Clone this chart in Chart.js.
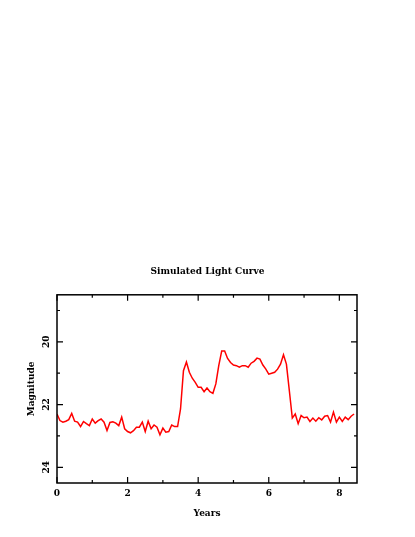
<!DOCTYPE html>
<html>
<head>
<meta charset="utf-8">
<title>Simulated Light Curve</title>
<script src="https://cdn.jsdelivr.net/npm/chart.js@4.4.1/dist/chart.umd.min.js"></script>
<style>
    html, body { margin: 0; padding: 0; background: #fff; }
    canvas { display: block; }
</style>
</head>
<body>
<canvas id="lightCurve" width="415" height="537"></canvas>
<script>
// --- Data ---
const years = [
    0, 0.083, 0.167, 0.25, 0.333, 0.417, 0.5, 0.583, 0.667, 0.75, 0.833, 0.917,
    1, 1.083, 1.167, 1.25, 1.333, 1.417, 1.5, 1.583, 1.667, 1.75, 1.833, 1.917,
    2, 2.083, 2.167, 2.25, 2.333, 2.417, 2.5, 2.583, 2.667, 2.75, 2.833, 2.917,
    3, 3.083, 3.167, 3.25, 3.333, 3.417, 3.5, 3.583, 3.667, 3.75, 3.833, 3.917,
    4, 4.083, 4.167, 4.25, 4.333, 4.417, 4.5, 4.583, 4.667, 4.75, 4.833, 4.917,
    5, 5.083, 5.167, 5.25, 5.333, 5.417, 5.5, 5.583, 5.667, 5.75, 5.833, 5.917,
    6, 6.083, 6.167, 6.25, 6.333, 6.417, 6.5, 6.583, 6.667, 6.75, 6.833, 6.917,
    7, 7.083, 7.167, 7.25, 7.333, 7.417, 7.5, 7.583, 7.667, 7.75, 7.833, 7.917,
    8, 8.083, 8.167, 8.25, 8.333, 8.417
];
const magnitudes = [
    22.30, 22.51, 22.56, 22.53, 22.48, 22.28, 22.53, 22.56, 22.70, 22.54, 22.61, 22.67,
    22.46, 22.59, 22.51, 22.46, 22.56, 22.83, 22.57, 22.55, 22.59, 22.67, 22.40, 22.77,
    22.86, 22.90, 22.83, 22.72, 22.72, 22.56, 22.86, 22.53, 22.77, 22.65, 22.72, 22.96,
    22.75, 22.88, 22.86, 22.65, 22.70, 22.70, 22.14, 20.92, 20.64, 20.97, 21.16, 21.29,
    21.45, 21.45, 21.59, 21.47, 21.59, 21.64, 21.34, 20.76, 20.29, 20.29, 20.53, 20.66,
    20.74, 20.76, 20.81, 20.76, 20.76, 20.81, 20.68, 20.62, 20.52, 20.55, 20.74, 20.87,
    21.03, 21.00, 20.97, 20.87, 20.71, 20.41, 20.71, 21.56, 22.43, 22.30, 22.61, 22.35,
    22.42, 22.40, 22.54, 22.43, 22.53, 22.42, 22.49, 22.37, 22.35, 22.56, 22.24, 22.56,
    22.40, 22.54, 22.40, 22.48, 22.37, 22.30
];
const xMajorTicks = [0, 2, 4, 6, 8];
const xMinorTicks = [1, 3, 5, 7];
const yMajorTicks = [20, 22, 24];
const yMinorTicks = [19, 21, 23];

const FONT = '"DejaVu Serif", "Liberation Serif", serif';

// Frame, inward ticks on all four sides, and tick labels (y labels rotated)
const framePlugin = {
    id: 'frame',
    afterDatasetsDraw(chart) {
        const { ctx, chartArea: a, scales: { x, y } } = chart;
        ctx.save();
        ctx.strokeStyle = '#000';
        ctx.lineWidth = 1.5;
        ctx.strokeRect(a.left, a.top, a.right - a.left, a.bottom - a.top);

        ctx.lineWidth = 1.2;
        const tick = (vals, len, horiz) => {
            vals.forEach(v => {
                ctx.beginPath();
                if (horiz) {
                    const px = x.getPixelForValue(v);
                    ctx.moveTo(px, a.bottom); ctx.lineTo(px, a.bottom - len);
                    ctx.moveTo(px, a.top); ctx.lineTo(px, a.top + len);
                } else {
                    const py = y.getPixelForValue(v);
                    ctx.moveTo(a.left, py); ctx.lineTo(a.left + len, py);
                    ctx.moveTo(a.right, py); ctx.lineTo(a.right - len, py);
                }
                ctx.stroke();
            });
        };
        tick(xMajorTicks, 6, true);
        tick(xMinorTicks, 3, true);
        tick(yMajorTicks, 6, false);
        tick(yMinorTicks, 3, false);

        ctx.fillStyle = '#000';
        ctx.font = 'bold 9px ' + FONT;
        ctx.textAlign = 'center';
        ctx.textBaseline = 'middle';
        xMajorTicks.forEach(v => {
            ctx.fillText(String(v), x.getPixelForValue(v), a.bottom + 11);
        });
        yMajorTicks.forEach(v => {
            ctx.save();
            ctx.translate(a.left - 10, y.getPixelForValue(v));
            ctx.rotate(-Math.PI / 2);
            ctx.fillText(String(v), 0, 0);
            ctx.restore();
        });
        ctx.restore();
    }
};

new Chart(document.getElementById('lightCurve').getContext('2d'), {
    type: 'line',
    data: {
        datasets: [{
            label: 'Magnitude',
            data: years.map((t, i) => ({ x: t, y: magnitudes[i] })),
            borderColor: '#ff0000',
            borderWidth: 1.5,
            pointRadius: 0,
            tension: 0,
            fill: false,
            yAxisID: 'y'
        }]
    },
    options: {
        responsive: false,
        animation: false,
        layout: { padding: { top: 266, right: 0, bottom: 0, left: 0 } },
        plugins: {
            legend: { display: false },
            tooltip: { enabled: false },
            title: {
                display: true,
                text: 'Simulated Light Curve',
                color: '#000',
                font: { family: FONT, size: 9, weight: 'bold', lineHeight: 1.2 },
                padding: { top: 0, bottom: 18 }
            }
        },
        scales: {
            x: {
                type: 'linear',
                min: 0,
                max: 8.5,
                grid: { display: false },
                border: { display: false },
                ticks: { display: false },
                title: {
                    display: true,
                    text: 'Years',
                    color: '#000',
                    font: { family: FONT, size: 9, weight: 'bold', lineHeight: 1.2 },
                    padding: { top: 0, bottom: 18 }
                },
                afterFit: s => { s.height = 54; }
            },
            y: {
                type: 'linear',
                reverse: true,
                min: 18.5,
                max: 24.5,
                grid: { display: false },
                border: { display: false },
                ticks: { display: false },
                title: {
                    display: true,
                    text: 'Magnitude',
                    color: '#000',
                    font: { family: FONT, size: 9, weight: 'bold', lineHeight: 1.2 },
                    padding: { top: 26, bottom: 0 }
                },
                afterFit: s => { s.width = 57; }
            },
            // empty right axis: only reserves the right margin so the title centres on the plot
            y2: {
                type: 'linear',
                position: 'right',
                reverse: true,
                min: 18.5,
                max: 24.5,
                grid: { display: false },
                border: { display: false },
                ticks: { display: false },
                afterFit: s => { s.width = 58; }
            }
        }
    },
    plugins: [framePlugin]
});
</script>
</body>
</html>
